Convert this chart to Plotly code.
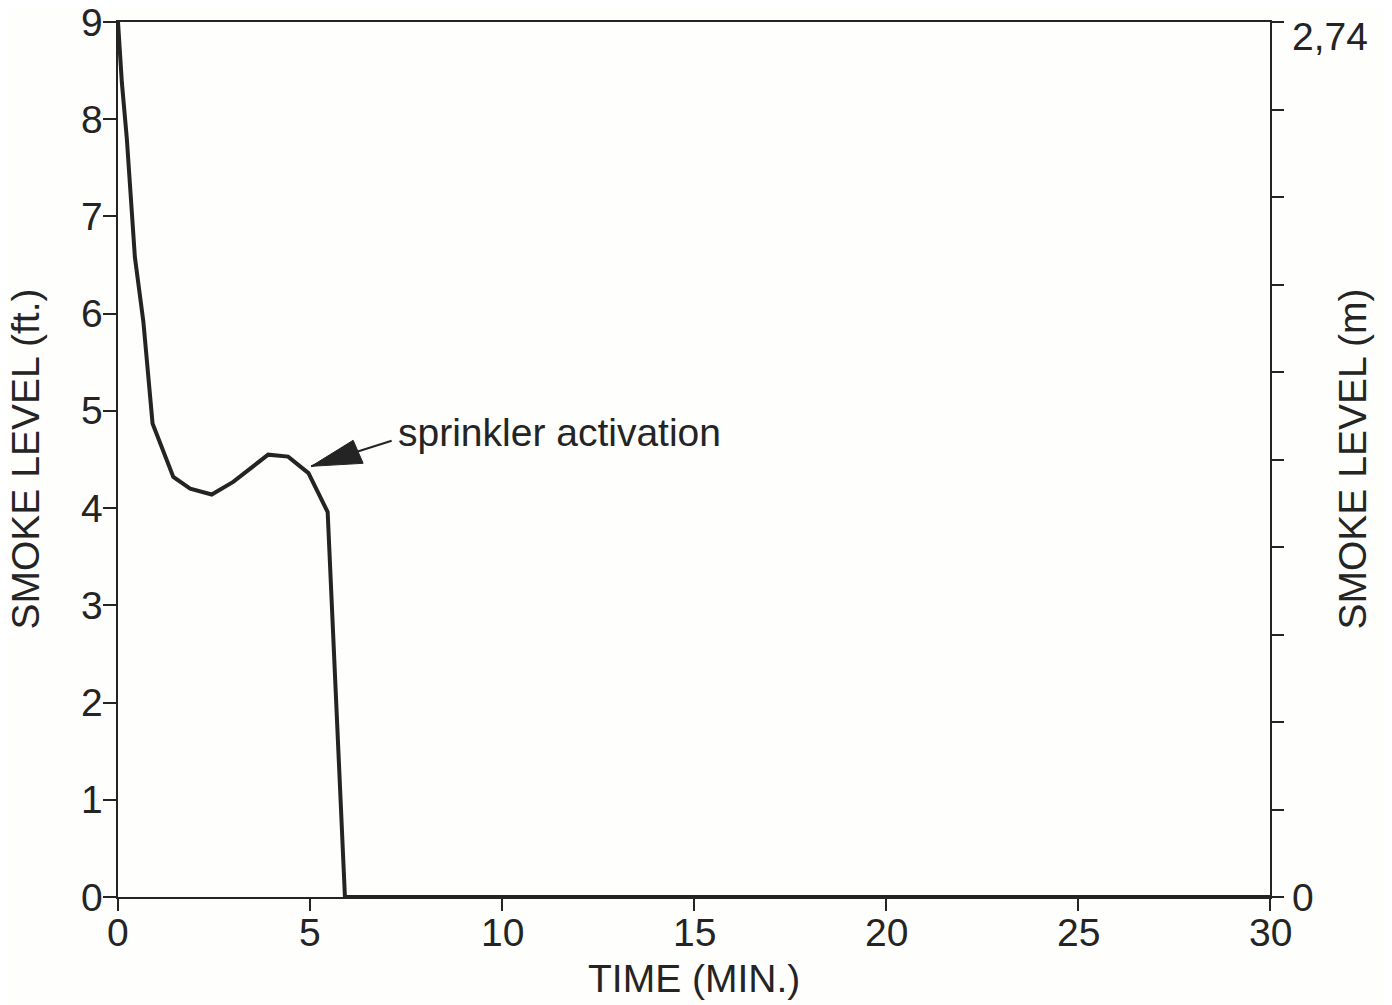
import plotly.graph_objects as go
import numpy as np

# ---- data ----
time_min = [0, 0.1, 0.23, 0.44, 0.66, 0.9, 1.44, 1.88, 2.44, 3.0, 3.91, 4.43, 4.96, 5.46, 5.91, 30]
smoke_ft = [9.0, 8.38, 7.8, 6.58, 5.92, 4.87, 4.32, 4.2, 4.14, 4.27, 4.55, 4.53, 4.36, 3.96, 0.0, 0.0]

x_ticks = [0, 5, 10, 15, 20, 25, 30]
y_ticks_ft = [0, 1, 2, 3, 4, 5, 6, 7, 8, 9]
m_max = 2.74
m_tickvals = list(np.linspace(0, m_max, 11))
m_labels = [(0, "0"), (m_max, "2,74")]

annot_time, annot_level = 5.03, 4.43
annot_text = "sprinkler activation"

INK = "#242424"
FONT = "Liberation Sans, Arial, sans-serif"
FS = 39

fig = go.Figure()
fig.add_trace(go.Scatter(x=time_min, y=smoke_ft, mode="lines",
                         line=dict(color=INK, width=4), showlegend=False,
                         hoverinfo="skip"))
fig.add_trace(go.Scatter(x=[0], y=[0], yaxis="y2", mode="markers",
                         marker=dict(opacity=0), showlegend=False, hoverinfo="skip"))

axis_common = dict(ticks="outside", tickwidth=2, tickcolor=INK, showline=True,
                   linecolor=INK, linewidth=2, showgrid=False, zeroline=False,
                   showticklabels=False, automargin=False)

fig.update_layout(
    width=1392, height=1005,
    margin=dict(l=110, r=130, t=14, b=116),
    paper_bgcolor="#fefefc", plot_bgcolor="#fefefc",
    font=dict(family=FONT, size=FS, color=INK),
    xaxis=dict(range=[0, 30], tickvals=x_ticks, ticklen=12, mirror=True, **axis_common),
    yaxis=dict(range=[0, 9], tickvals=y_ticks_ft, ticklen=13, **axis_common),
    yaxis2=dict(range=[0, m_max], overlaying="y", side="right",
                tickvals=m_tickvals, ticklen=12, **axis_common),
)

# tick labels
for v in x_ticks:
    fig.add_annotation(text=str(v), x=v, y=0, xref="x", yref="paper",
                       xanchor="center", yanchor="middle", yshift=-35,
                       showarrow=False)
for v in y_ticks_ft:
    fig.add_annotation(text=str(v), x=0, y=v, xref="paper", yref="y",
                       xanchor="right", yanchor="middle", xshift=-13,
                       showarrow=False)
for v, t in m_labels:
    fig.add_annotation(text=t, x=1, y=v, xref="paper", yref="y2",
                       xanchor="left", yanchor="middle", xshift=20,
                       yshift=(-14 if v > 0 else 0), showarrow=False)

# axis titles
fig.add_annotation(text="SMOKE LEVEL (ft.)", xref="paper", yref="paper", x=0, y=0.5,
                   xanchor="center", yanchor="middle",
                   xshift=-93, textangle=-90, showarrow=False)
fig.add_annotation(text="SMOKE LEVEL (m)", xref="paper", yref="paper", x=1, y=0.5,
                   xanchor="center", yanchor="middle",
                   xshift=82, textangle=-90, showarrow=False)
fig.add_annotation(text="TIME (MIN.)", xref="paper", yref="paper", x=0.5, y=0,
                   xanchor="center", yanchor="middle",
                   yshift=-81, showarrow=False)

# arrow shaft
fig.add_annotation(x=annot_time, y=annot_level, xref="x", yref="y", text="",
                   showarrow=True, arrowhead=0, arrowwidth=2, arrowcolor=INK,
                   ax=82, ay=-26)
# arrow head
fig.add_shape(type="path", xref="x", yref="y", xsizemode="pixel", ysizemode="pixel",
              xanchor=annot_time, yanchor=annot_level,
              path="M0,0 L52,3 L42,26 Z", fillcolor=INK, line=dict(color=INK, width=1))
# label
fig.add_annotation(text=annot_text, x=annot_time, y=annot_level, xref="x", yref="y",
                   xanchor="left", yanchor="middle", showarrow=False,
                   xshift=85, yshift=34)

fig.write_html("out.html")
